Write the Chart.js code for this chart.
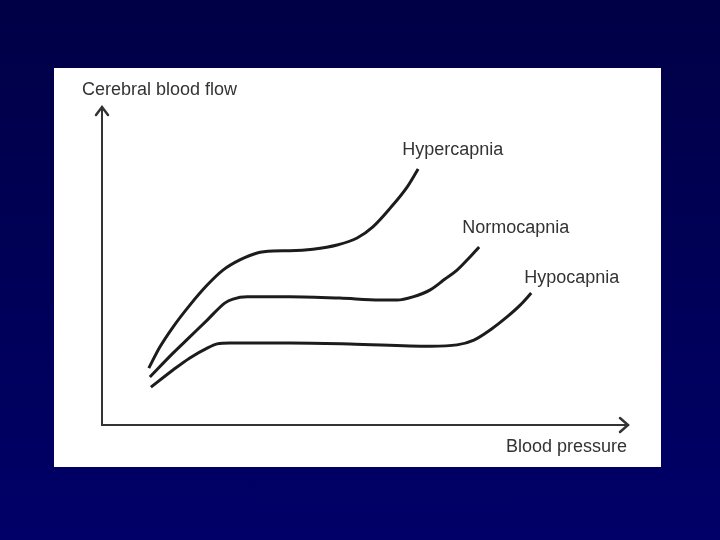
<!DOCTYPE html>
<html>
<head>
<meta charset="utf-8">
<script src="https://cdn.jsdelivr.net/npm/chart.js@4/dist/chart.umd.min.js"></script>
<style>
  html, body { margin: 0; padding: 0; }
  body {
    width: 720px; height: 540px; overflow: hidden;
    background: linear-gradient(#000046, #000068);
    position: relative;
  }
  #panel {
    position: absolute; left: 54px; top: 68px;
    width: 607px; height: 399px; background: #fff;
  }
</style>
</head>
<body>
<div id="panel"><canvas id="cbf" width="607" height="399"></canvas></div>
<script>
// curve names
const seriesNames = ['Hypercapnia', 'Normocapnia', 'Hypocapnia'];

// blood pressure (x) and cerebral blood flow (y), arbitrary units 0-100
const hyperX = [8.9, 11.0, 13.5, 16.7, 20.0, 23.0, 26.2, 29.5, 32.5, 35.7, 40.1, 44.7, 48.5, 51.5, 54.8, 58.0, 60.1];
const hyperY = [17.9, 24.5, 30.8, 37.7, 44.0, 48.7, 51.9, 54.1, 54.7, 54.8, 55.3, 56.6, 58.8, 62.3, 68.2, 74.8, 80.5];

const normoX = [9.1, 13.5, 16.7, 20.0, 23.4, 24.9, 27.6, 35.7, 45.2, 52.9, 56.1, 59.1, 62.4, 65.2, 67.5, 69.6, 71.7];
const normoY = [15.1, 22.6, 27.7, 33.0, 38.4, 39.6, 40.3, 40.3, 39.9, 39.3, 39.3, 40.3, 42.5, 45.9, 48.7, 52.2, 56.0];

const hypoX = [9.3, 13.5, 16.7, 20.0, 21.9, 24.3, 35.7, 47.1, 62.4, 67.5, 70.7, 73.8, 77.0, 79.5, 81.6];
const hypoY = [11.9, 17.3, 21.1, 24.2, 25.5, 25.8, 25.8, 25.5, 24.8, 25.2, 26.7, 29.9, 34.0, 37.7, 41.5];

const axisTitles = ['Blood pressure', 'Cerebral blood flow'];

const seriesX = [hyperX, normoX, hypoX];
const seriesY = [hyperY, normoY, hypoY];

// where each curve label sits relative to the curve end (px)
const labelOffsets = [[-16, -19], [-17, -19], [-7, -15]];

const FONT = '18px "Liberation Sans", Arial, sans-serif';
const INK = '#333';

const datasets = seriesNames.map((name, i) => ({
  label: name,
  data: seriesX[i].map((x, j) => ({ x: x, y: seriesY[i][j] })),
  showLine: true,
  borderColor: '#1c1c1c',
  borderWidth: 3,
  pointRadius: 0,
  cubicInterpolationMode: 'monotone',
  fill: false
}));

// arrows, axis titles and curve labels
const decorations = {
  id: 'decorations',
  afterDraw(chart) {
    const ctx = chart.ctx;
    const a = chart.chartArea;
    ctx.save();
    ctx.strokeStyle = '#333';
    ctx.lineWidth = 2.5;
    ctx.lineCap = 'round';
    ctx.lineJoin = 'miter';
    // y arrow
    ctx.beginPath();
    ctx.moveTo(a.left - 6, a.top + 8);
    ctx.lineTo(a.left, a.top);
    ctx.lineTo(a.left + 6, a.top + 8);
    ctx.stroke();
    // x arrow
    ctx.beginPath();
    ctx.moveTo(a.right - 8, a.bottom - 7);
    ctx.lineTo(a.right, a.bottom);
    ctx.lineTo(a.right - 8, a.bottom + 7);
    ctx.stroke();

    ctx.fillStyle = INK;
    ctx.font = FONT;
    ctx.textBaseline = 'middle';
    ctx.textAlign = 'left';
    ctx.fillText(axisTitles[1], a.left - 20, a.top - 17);
    ctx.textAlign = 'right';
    ctx.fillText(axisTitles[0], a.right - 1, a.bottom + 22);

    ctx.textAlign = 'left';
    chart.data.datasets.forEach((ds, i) => {
      const last = ds.data[ds.data.length - 1];
      const px = chart.scales.x.getPixelForValue(last.x);
      const py = chart.scales.y.getPixelForValue(last.y);
      ctx.fillText(ds.label, px + labelOffsets[i][0], py + labelOffsets[i][1]);
    });
    ctx.restore();
  }
};

const axisOpts = {
  type: 'linear',
  min: 0,
  max: 100,
  grid: { display: false, drawTicks: false, tickLength: 0 },
  ticks: { display: false, padding: 0 },
  border: { display: true, color: '#333', width: 2 }
};

new Chart(document.getElementById('cbf'), {
  type: 'scatter',
  data: { datasets: datasets },
  options: {
    responsive: false,
    animation: false,
    layout: { padding: { left: 48, right: 33, top: 39, bottom: 42 } },
    scales: { x: axisOpts, y: axisOpts },
    plugins: { legend: { display: false }, tooltip: { enabled: false } }
  },
  plugins: [decorations]
});
</script>
</body>
</html>
